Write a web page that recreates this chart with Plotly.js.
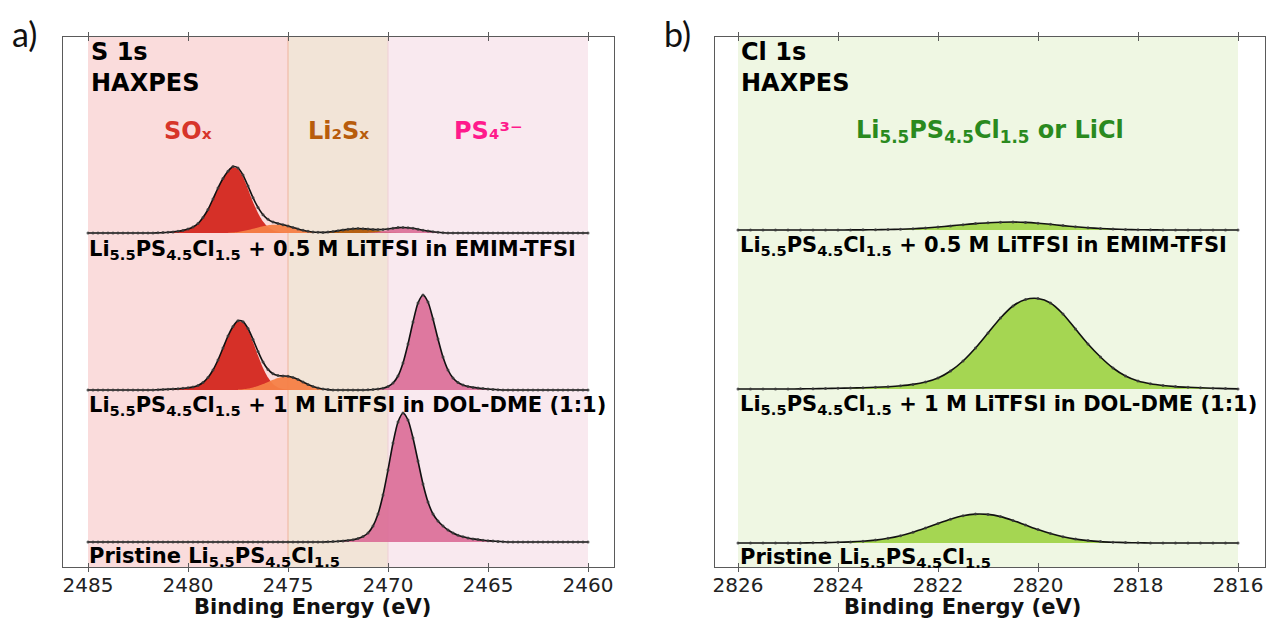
<!DOCTYPE html>
<html>
<head>
<meta charset="utf-8">
<script src="https://cdn.plot.ly/plotly-3.0.1.min.js"></script>
<style>html,body{margin:0;padding:0;background:#fff;}#chart{width:1266px;height:625px;}</style>
</head>
<body>
<div id="chart"></div>
<script>
// ---------------- DATA ----------------
const STEP = 0.25; // eV sampling of all curves
const S_RANGE = [2485, 2460];
const CL_RANGE = [2826, 2816];
const S_TICKS = [2485, 2480, 2475, 2470, 2465, 2460];
const CL_TICKS = [2826, 2824, 2822, 2820, 2818, 2816];
const REGION_NAMES = ['SOₓ', 'Li₂Sₓ', 'PS₄³⁻'];
const REGION_EDGES = [2485, 2475, 2470, 2460];
const CL_REGION_NAME = 'Li<sub>5.5</sub>PS<sub>4.5</sub>Cl<sub>1.5</sub> or LiCl';
const SAMPLE_LABELS = [
  'Li<sub>5.5</sub>PS<sub>4.5</sub>Cl<sub>1.5</sub> + 0.5 M LiTFSI in EMIM-TFSI',
  'Li<sub>5.5</sub>PS<sub>4.5</sub>Cl<sub>1.5</sub> + 1 M LiTFSI in DOL-DME (1:1)',
  'Pristine Li<sub>5.5</sub>PS<sub>4.5</sub>Cl<sub>1.5</sub>'
];

// S 1s – EMIM-TFSI sample (start energy, then values every 0.25 eV towards lower BE)
const emimSOxFrom = 2481.5;
const emimSOx = [0.2,0.4,0.7,1.1,1.7,2.6,4.0,6.0,9.5,15.5,23.5,34.0,45.0,54.5,61.5,65.8,64.0,56.0,44.0,31.0,20.0,11.5,6.0,2.8,1.2,0.4,0.0];
const emimSOx2From = 2478.0;
const emimSOx2 = [0.3,0.6,1.1,1.9,3.0,4.3,5.6,6.8,7.7,8.2,8.3,7.9,7.0,5.6,4.1,2.8,1.7,1.0,0.5,0.2,0];
const emimLi2SxFrom = 2473.5;
const emimLi2Sx = [0.2,0.4,0.9,1.5,2.3,3.1,3.8,4.3,4.5,4.3,3.8,3.1,2.3,1.5,0.9,0.4,0.2,0];
const emimPS4From = 2471.0;
const emimPS4 = [0.2,0.5,1.1,2.0,3.1,4.3,5.2,5.5,5.3,4.7,3.8,2.8,1.9,1.2,0.7,0.3,0];

// S 1s – DOL-DME sample
const dolSOxFrom = 2481.5;
const dolSOx = [0.3,0.5,0.7,1.0,1.3,1.7,2.2,3.0,4.5,7.5,12.5,20.0,30.0,42.0,54.0,63.5,68.8,67.5,60.0,48.0,34.5,22.0,12.5,6.0,2.5,0.9,0.3,0];
const dolSOx2From = 2477.5;
const dolSOx2 = [0.4,0.8,1.5,2.6,4.1,6.0,8.1,10.2,12.0,13.2,13.5,12.5,10.5,8.0,5.5,3.5,2.0,1.0,0.4,0];
const dolPS4From = 2471.25;
const dolPS4 = [0,0.2,0.5,1.0,1.8,3.5,7,14,27,46,68,87,95,88,71,51,33,20,12,7.5,5.0,3.5,2.6,1.9,1.4,1.0,0.6,0.3,0];

// S 1s – pristine
const priPS4From = 2473.25;
const priPS4 = [0,0.2,0.4,0.7,1.1,1.6,2.3,3.5,5.5,9,16,28,47,72,99,120,129,122,104,81,58,40,28,21,16,12,9,6.8,5.2,4.0,3.1,2.4,1.8,1.3,0.9,0.6,0.3,0];

// Cl 1s
const emimClFrom = 2824.0;
const emimCl = [0.05,0.1,0.15,0.3,0.45,0.8,1.3,2.0,3.0,4.1,5.3,6.4,7.3,7.8,8.0,7.6,6.8,5.7,4.4,3.2,2.2,1.5,0.9,0.5,0.3,0.15,0.05,0];
const dolClFrom = 2825.0;
const dolCl = [0,0.15,0.3,0.5,0.7,1.0,1.3,1.7,2.3,3.2,4.6,7,11,18,28,41,56,71,83,89.5,90.5,86,75,60,45,32,21,13,8,5.2,3.5,2.4,1.7,1.2,0.8,0.4,0.1];
const priClFrom = 2824.75;
const priCl = [0,0.2,0.4,0.7,1.1,1.8,2.9,4.7,7.3,10.8,15.0,19.5,23.8,27.2,28.9,28.6,26.4,22.6,18.0,13.4,9.4,6.2,3.9,2.4,1.4,0.8,0.4,0.2,0];

// ---------------- STYLE / LAYOUT ----------------
const C = {
  sox: 'rgba(212,38,30,0.95)', sox2: 'rgba(245,128,70,0.95)', li2sx: 'rgba(178,88,6,0.95)',
  ps4: 'rgba(218,104,148,0.88)', cl: 'rgba(160,212,74,0.95)'
};
const FONT = 'DejaVu Sans';
const fx = px => (px - 63) / 1202;
const fy = py => (567 - py) / 530;

function energies(from, n) {
  return Array.from({length: n}, (_, i) => Math.round((from - i * STEP) * 100) / 100);
}
function envelope(range, comps) {
  const n = Math.round((range[0] - range[1]) / STEP) + 1;
  const x = energies(range[0], n);
  const y = new Array(n).fill(0);
  comps.forEach(c => c.v.forEach((val, i) => {
    const k = Math.round((range[0] - c.from) / STEP) + i;
    if (k >= 0 && k < n) y[k] += val;
  }));
  return {x, y};
}
const traces = [];
function spectrum(range, comps, xa, ya) {
  comps.forEach(c => traces.push({
    type: 'scatter', mode: 'lines', x: energies(c.from, c.v.length), y: c.v,
    xaxis: xa, yaxis: ya, fill: 'tozeroy', fillcolor: c.color,
    line: {width: 0, shape: 'spline', smoothing: 0.7, color: c.color}, hoverinfo: 'skip'
  }));
  const env = envelope(range, comps);
  traces.push({
    type: 'scatter', mode: 'lines+markers', x: env.x, y: env.y, xaxis: xa, yaxis: ya,
    line: {color: '#111', width: 1.6, shape: 'spline', smoothing: 0.7},
    marker: {size: 3, color: 'rgba(60,60,60,0.85)'}, hoverinfo: 'skip'
  });
}
spectrum(S_RANGE, [
  {from: emimSOxFrom, v: emimSOx, color: C.sox},
  {from: emimSOx2From, v: emimSOx2, color: C.sox2},
  {from: emimLi2SxFrom, v: emimLi2Sx, color: C.li2sx},
  {from: emimPS4From, v: emimPS4, color: C.ps4}], 'x', 'y3');
spectrum(S_RANGE, [
  {from: dolSOxFrom, v: dolSOx, color: C.sox},
  {from: dolSOx2From, v: dolSOx2, color: C.sox2},
  {from: dolPS4From, v: dolPS4, color: C.ps4}], 'x', 'y2');
spectrum(S_RANGE, [{from: priPS4From, v: priPS4, color: C.ps4}], 'x', 'y');
spectrum(CL_RANGE, [{from: emimClFrom, v: emimCl, color: C.cl}], 'x2', 'y6');
spectrum(CL_RANGE, [{from: dolClFrom, v: dolCl, color: C.cl}], 'x2', 'y5');
spectrum(CL_RANGE, [{from: priClFrom, v: priCl, color: C.cl}], 'x2', 'y4');

const frame = '#5a5a5a';
const xBase = {
  showline: true, mirror: 'allticks', linecolor: frame, linewidth: 1, ticks: 'inside', ticklen: 4,
  tickcolor: frame, showgrid: false, zeroline: false, tickfont: {family: FONT, size: 20, color: '#222'}
};
const yBase = {showline: true, mirror: true, linecolor: frame, linewidth: 1, ticks: '', showticklabels: false,
  showgrid: false, zeroline: false, fixedrange: true};
const yOver = (anchor, off, over) => ({overlaying: over, anchor: anchor, range: [-off, 530 - off], visible: false});

const shapes = [
  {type: 'rect', xref: 'x', yref: 'paper', x0: REGION_EDGES[0], x1: REGION_EDGES[1], y0: 0, y1: 1, fillcolor: '#fadcdc', line: {width: 0}, layer: 'below'},
  {type: 'rect', xref: 'x', yref: 'paper', x0: REGION_EDGES[1], x1: REGION_EDGES[2], y0: 0, y1: 1, fillcolor: '#f2e4d7', line: {width: 0}, layer: 'below'},
  {type: 'rect', xref: 'x', yref: 'paper', x0: REGION_EDGES[2], x1: REGION_EDGES[3], y0: 0, y1: 1, fillcolor: '#f9e9ef', line: {width: 0}, layer: 'below'},
  {type: 'line', xref: 'x', yref: 'paper', x0: REGION_EDGES[1], x1: REGION_EDGES[1], y0: 0, y1: 1, line: {color: '#efb49c', width: 1}, layer: 'below'},
  {type: 'line', xref: 'x', yref: 'paper', x0: REGION_EDGES[2], x1: REGION_EDGES[2], y0: 0, y1: 1, line: {color: '#efcfd6', width: 1}, layer: 'below'},
  {type: 'rect', xref: 'x2', yref: 'paper', x0: CL_RANGE[0], x1: CL_RANGE[1], y0: 0, y1: 1, fillcolor: '#eff7e3', line: {width: 0}, layer: 'below'}
];

const bold = (t) => '<b>' + t + '</b>';
const ann = (text, px, py, size, color, xanchor, family, yanchor) => ({
  text: text, xref: 'paper', yref: 'paper', x: fx(px), y: fy(py), xanchor: xanchor || 'left', yanchor: yanchor || 'middle',
  showarrow: false, align: 'left', font: {family: family || FONT, size: size, color: color || '#000'}
});
const annotations = [
  ann('a)', 10, 34, 34, '#111', 'left', 'Lato'),
  ann('b)', 662, 34, 34, '#111', 'left', 'Lato'),
  ann(bold('S 1s<br>HAXPES'), 89, 67.5, 24),
  ann(bold('Cl 1s<br>HAXPES'), 739, 67.5, 24),
  ann(bold(REGION_NAMES[0]), 188, 131, 24, '#d7352a', 'center'),
  ann(bold(REGION_NAMES[1]), 338, 131, 24, '#b85c0c', 'center'),
  ann(bold(REGION_NAMES[2]), 488, 131, 24, '#ff1a8c', 'center'),
  ann(bold(CL_REGION_NAME), 990, 131, 24, '#2a8a1e', 'center'),
  ann(bold(SAMPLE_LABELS[0]), 87, 250, 21), ann(bold(SAMPLE_LABELS[1]), 87, 406, 21), ann(bold(SAMPLE_LABELS[2]), 87, 557, 21),
  ann(bold(SAMPLE_LABELS[0]), 738, 246, 21), ann(bold(SAMPLE_LABELS[1]), 738, 405, 21), ann(bold(SAMPLE_LABELS[2]), 738, 558, 21),
  ann(bold('Binding Energy (eV)'), 312, 607, 21, '#111', 'center'),
  ann(bold('Binding Energy (eV)'), 962, 607, 21, '#111', 'center')
];

const layout = {
  width: 1266, height: 625, margin: {l: 63, r: 1, t: 37, b: 58, pad: 0},
  paper_bgcolor: '#fff', plot_bgcolor: '#fff', showlegend: false,
  xaxis: Object.assign({}, xBase, {domain: [0, 551 / 1202], range: [2486.25, 2458.7], anchor: 'y', tickvals: S_TICKS}),
  yaxis: Object.assign({}, yBase, {domain: [0, 1], anchor: 'x', range: [-25, 505]}),
  yaxis2: yOver('x', 177, 'y'),
  yaxis3: yOver('x', 334, 'y'),
  xaxis2: Object.assign({}, xBase, {domain: [652 / 1202, 1], range: [2826.46, 2815.46], anchor: 'y4', tickvals: CL_TICKS}),
  yaxis4: Object.assign({}, yBase, {domain: [0, 1], anchor: 'x2', range: [-24, 506]}),
  yaxis5: yOver('x2', 178, 'y4'),
  yaxis6: yOver('x2', 337, 'y4'),
  shapes: shapes, annotations: annotations
};
Plotly.newPlot('chart', traces, layout, {staticPlot: true, displayModeBar: false});
</script>
</body>
</html>
